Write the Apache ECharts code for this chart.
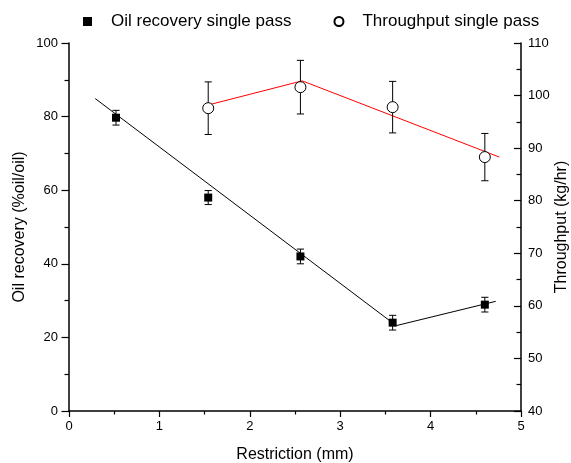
<!DOCTYPE html>
<html>
<head>
<meta charset="utf-8">
<script src="https://cdn.jsdelivr.net/npm/echarts@6/dist/echarts.min.js"></script>
<style>html,body{margin:0;padding:0;background:#fff}#c{width:571px;height:463px}</style>
</head>
<body>
<div id="c"></div>
<script>
// Oil recovery single pass (left axis)
const xOil = [0.52, 1.54, 2.56, 3.58, 4.60];
const oil = [79.7, 58.0, 42.0, 24.0, 28.9];
const oilErr = [2.0, 1.9, 2.0, 2.0, 2.0];
// Throughput single pass (right axis)
const xThr = [1.54, 2.56, 3.58, 4.60];
const thr = [97.6, 101.6, 97.8, 88.3];
const thrErr = [5.0, 5.1, 4.9, 4.5];
// Piecewise fit lines
const oilFitX = [0.29, 3.62, 4.72];
const oilFitY = [84.9, 23.2, 29.8];
const thrFitX = [1.56, 2.58, 4.76];
const thrFitY = [98.3, 102.8, 88.3];
// Axis ranges
const xRange = [0, 5, 1];
const leftRange = [0, 100, 20];
const rightRange = [40, 110, 10];

const names = {
  oil: 'Oil recovery single pass',
  thr: 'Throughput single pass',
  x: 'Restriction (mm)',
  yL: 'Oil recovery (%oil/oil)',
  yR: 'Throughput (kg/hr)'
};

const FONT = 'Liberation Sans, Arial, Helvetica, sans-serif';
const zip = (a, b) => a.map((v, i) => [v, b[i]]);
const errData = (xs, ys, es) => xs.map((v, i) => [v, ys[i] - es[i], ys[i] + es[i]]);

function errRender(params, api) {
  const x = api.value(0), lo = api.value(1), hi = api.value(2);
  const p1 = api.coord([x, hi]);
  const p2 = api.coord([x, lo]);
  const w = 3.6;
  const st = { stroke: '#000', lineWidth: 1 };
  return {
    type: 'group',
    children: [
      { type: 'line', shape: { x1: p1[0], y1: p1[1], x2: p2[0], y2: p2[1] }, style: st },
      { type: 'line', shape: { x1: p1[0] - w, y1: p1[1], x2: p1[0] + w, y2: p1[1] }, style: st },
      { type: 'line', shape: { x1: p2[0] - w, y1: p2[1], x2: p2[0] + w, y2: p2[1] }, style: st }
    ]
  };
}

const axisLine = { show: true, lineStyle: { color: '#000', width: 1.5 } };
const labelStyle = { color: '#000', fontSize: 13, fontFamily: FONT };

const chart = echarts.init(document.getElementById('c'), null, { renderer: 'canvas' });
chart.setOption({
  animation: false,
  backgroundColor: '#fff',
  textStyle: { fontFamily: FONT },
  grid: { left: 69, right: 50, top: 43, bottom: 52, containLabel: false, outerBoundsMode: 'none' },
  legend: {
    data: [names.oil, names.thr],
    left: 83,
    top: 13,
    padding: 0,
    itemWidth: 9,
    itemHeight: 9,
    itemGap: 42,
    textStyle: { color: '#000', fontSize: 17, fontFamily: FONT, padding: [0, 0, 0, 14] }
  },
  xAxis: {
    type: 'value',
    min: xRange[0], max: xRange[1], interval: xRange[2],
    name: names.x,
    nameLocation: 'middle',
    nameGap: 36,
    nameMoveOverlap: false,
    nameTextStyle: { color: '#000', fontSize: 16, fontFamily: FONT },
    axisLine: axisLine,
    axisTick: { show: true, inside: false, length: 6, lineStyle: { color: '#000', width: 1.2 } },
    minorTick: { show: true, splitNumber: 2, length: 3.5, lineStyle: { color: '#000', width: 1.2 } },
    axisLabel: Object.assign({ margin: 9 }, labelStyle),
    splitLine: { show: false }
  },
  yAxis: [
    {
      type: 'value',
      position: 'left',
      min: leftRange[0], max: leftRange[1], interval: leftRange[2],
      name: names.yL,
      nameLocation: 'middle',
      nameGap: 41,
      nameMoveOverlap: false,
      nameTextStyle: { color: '#000', fontSize: 16, fontFamily: FONT },
      axisLine: axisLine,
      axisTick: { show: true, inside: false, length: 7.5, lineStyle: { color: '#000', width: 1.2 } },
      minorTick: { show: true, splitNumber: 2, length: 4.5, lineStyle: { color: '#000', width: 1.2 } },
      axisLabel: Object.assign({ margin: 11 }, labelStyle),
      splitLine: { show: false }
    },
    {
      type: 'value',
      position: 'right',
      min: rightRange[0], max: rightRange[1], interval: rightRange[2],
      name: names.yR,
      nameLocation: 'middle',
      nameGap: 33,
      nameMoveOverlap: false,
      nameTextStyle: { color: '#000', fontSize: 16, fontFamily: FONT },
      axisLine: axisLine,
      axisTick: { show: true, inside: true, length: 7, lineStyle: { color: '#000', width: 1.2 } },
      minorTick: { show: true, splitNumber: 2, length: 4.5, lineStyle: { color: '#000', width: 1.2 } },
      axisLabel: Object.assign({ margin: 7 }, labelStyle),
      splitLine: { show: false }
    }
  ],
  series: [
    {
      name: 'oilFit', type: 'line', yAxisIndex: 0, data: zip(oilFitX, oilFitY),
      showSymbol: false, symbol: 'none', silent: true,
      lineStyle: { color: '#000', width: 1 }, z: 2
    },
    {
      name: 'thrFit', type: 'line', yAxisIndex: 1, data: zip(thrFitX, thrFitY),
      showSymbol: false, symbol: 'none', silent: true,
      lineStyle: { color: '#ff0000', width: 1 }, z: 2
    },
    {
      name: 'oilErr', type: 'custom', yAxisIndex: 0, renderItem: errRender,
      encode: { x: 0, y: [1, 2] }, data: errData(xOil, oil, oilErr), z: 3
    },
    {
      name: 'thrErr', type: 'custom', yAxisIndex: 1, renderItem: errRender,
      encode: { x: 0, y: [1, 2] }, data: errData(xThr, thr, thrErr), z: 3
    },
    {
      name: names.oil, type: 'scatter', yAxisIndex: 0, data: zip(xOil, oil),
      symbol: 'rect', symbolSize: 8,
      itemStyle: { color: '#000', opacity: 1 }, z: 5
    },
    {
      name: names.thr, type: 'scatter', yAxisIndex: 1, data: zip(xThr, thr),
      symbol: 'circle', symbolSize: 11,
      itemStyle: { color: '#fff', borderColor: '#000', borderWidth: 1, opacity: 1 }, z: 5
    }
  ]
});
</script>
</body>
</html>
